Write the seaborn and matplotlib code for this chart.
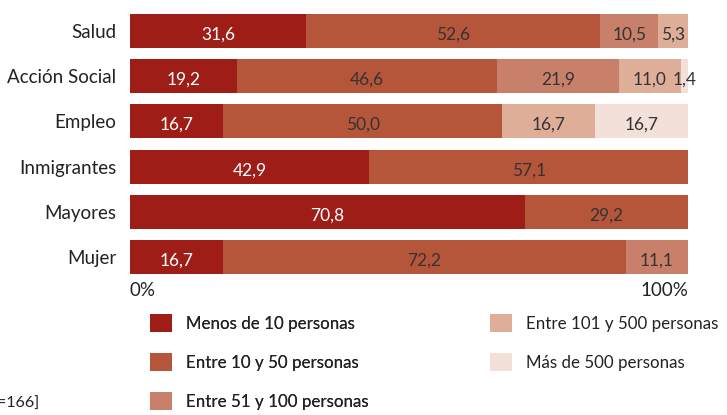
import numpy as np
import pandas as pd
import matplotlib.pyplot as plt
import seaborn as sns
from matplotlib.patches import Patch

categories = ['Salud', 'Acción Social', 'Empleo', 'Inmigrantes', 'Mayores', 'Mujer']
series = ['Menos de 10 personas', 'Entre 10 y 50 personas', 'Entre 51 y 100 personas',
          'Entre 101 y 500 personas', 'Más de 500 personas']
menos_10 = [31.6, 19.2, 16.7, 42.9, 70.8, 16.7]
entre_10_50 = [52.6, 46.6, 50.0, 57.1, 29.2, 72.2]
entre_51_100 = [10.5, 21.9, 0.0, 0.0, 0.0, 11.1]
entre_101_500 = [5.3, 11.0, 16.7, 0.0, 0.0, 0.0]
mas_500 = [0.0, 1.4, 16.7, 0.0, 0.0, 0.0]
colors = ['#9e1e17', '#b5553a', '#c9806a', '#dfae98', '#f3e0d8']
label_colors = ['white', '#333333', '#333333', '#333333', '#333333']

sns.set_style('white')
plt.rcParams['font.family'] = ['Lato', 'DejaVu Sans']

values = np.array([menos_10, entre_10_50, entre_51_100, entre_101_500, mas_500])
cum = values.cumsum(axis=0)

fig = plt.figure(figsize=(7.27, 4.15), dpi=100)
ax = fig.add_axes([130 / 727, 1 - 274 / 415, 558 / 727, 260 / 415])

# stacked bars: draw cumulative totals from the last series back to the first
for i in range(len(series) - 1, -1, -1):
    df = pd.DataFrame({'cat': categories, 'val': cum[i]})
    sns.barplot(data=df, x='val', y='cat', orient='h', color=colors[i],
                width=0.75, saturation=1, ax=ax, linewidth=0)

for i in range(len(series)):
    for j in range(len(categories)):
        v = values[i, j]
        if v <= 0:
            continue
        xc = cum[i, j] - v / 2
        ax.text(xc, j + 0.08, f'{v:.1f}'.replace('.', ','), ha='center', va='center',
                fontsize=12.5, color=label_colors[i], clip_on=False)

ax.set_xlim(0, 100)
ax.set_ylim(5.375, -0.375)
ax.set_xlabel('')
ax.set_ylabel('')
for s in ax.spines.values():
    s.set_visible(False)
ax.tick_params(axis='y', length=0, pad=10, labelsize=13.5, labelcolor='#222222')
ax.tick_params(axis='x', length=0, pad=6, labelsize=13.5, labelcolor='#222222')
ax.set_xticks([0, 100])
ax.set_xticklabels(['0%', '100%'])
ax.get_xticklabels()[0].set_ha('left')
ax.get_xticklabels()[1].set_ha('right')

handles = [Patch(facecolor=c, edgecolor='none') for c in colors]
leg_kw = dict(frameon=False, borderpad=0, borderaxespad=0, handlelength=1.3,
              handleheight=1.3, handletextpad=0.8, labelspacing=1.2,
              fontsize=12.2, labelcolor='#222222', loc='upper left')
leg1 = fig.legend(handles[:3], series[:3], bbox_to_anchor=(150 / 727, 1 - 314 / 415), **leg_kw)
fig.add_artist(leg1)
fig.legend(handles[3:], series[3:], bbox_to_anchor=(490 / 727, 1 - 314 / 415), **leg_kw)

fig.text(40 / 727, 1 - 404 / 415, '[n=166]', ha='right', va='center', fontsize=11.5, color='#222222')

fig.savefig('out.png', dpi=100)
